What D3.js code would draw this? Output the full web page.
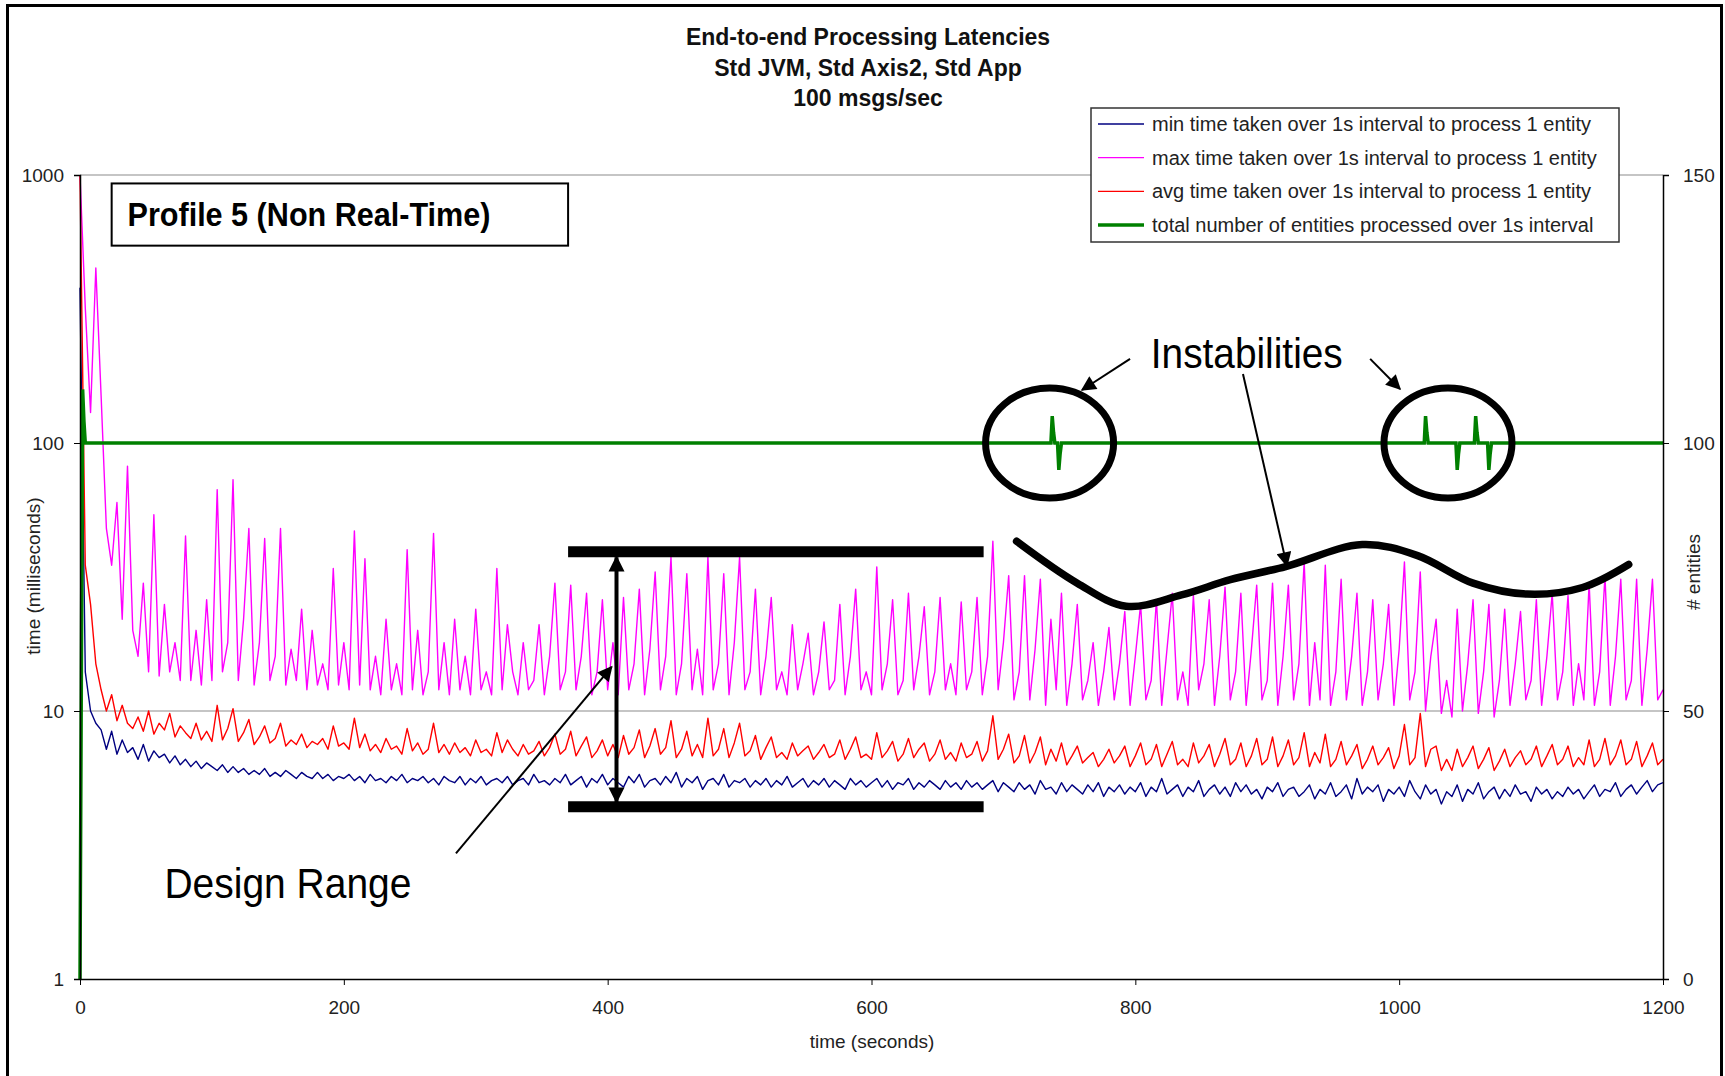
<!DOCTYPE html>
<html lang="en">
<head>
<meta charset="UTF-8">
<title>End-to-end Processing Latencies</title>
<script src="https://d3js.org/d3.v7.min.js"></script>
<style>
    body { margin: 0; background: #fff; }
    text { font-family: 'Liberation Sans', Arial, Helvetica, sans-serif; }
    .tick text { font-size: 19px; fill: #222; }
</style>
</head>
<body>
<script>
    // sampling interval of the latency series (seconds)
    const STEP = 4;

    // max time taken over 1s interval (ms), one value every STEP seconds, t = 0..1200
    const maxMs = [
        1000, 320, 130, 450, 150, 48, 35, 60, 22, 82,
        20, 16, 30, 14, 54, 13.5, 25, 14, 18, 13,
        45, 13, 20, 12.5, 26, 13, 67, 14, 18, 73,
        13, 22, 48, 12.5, 18, 44, 13, 16, 48, 12.5,
        17, 13, 24, 12, 20, 12.5, 15, 12, 34, 12.5,
        18, 12, 47, 12.5, 37, 12, 16, 11.5, 22, 12,
        15, 11.5, 40, 12, 20, 11.5, 14, 46, 12, 18,
        11.5, 22, 12, 16, 11.5, 24, 12, 14, 11.5, 34,
        12, 21, 14, 11.5, 18, 12, 13, 21, 11.5, 16,
        30, 12, 14, 29.5, 12, 16, 27.5, 11.5, 14, 26,
        12, 18, 11.5, 26.5, 12, 15, 28.5, 11.5, 17, 33,
        12, 16, 37.5, 11.5, 15, 32.5, 12, 17, 11.5, 37.5,
        12, 15, 32.5, 11.5, 18, 37.5, 12, 14, 28.5, 11.5,
        16, 26.5, 12, 14, 11.5, 21, 12, 15, 19.5, 11.5,
        14, 21.5, 12, 13, 25, 11.5, 16, 28.5, 12, 14,
        11.5, 34.5, 12, 15, 26, 11.5, 13, 27.5, 12, 16,
        24.5, 11.5, 14, 26.5, 12, 15, 11.5, 25.5, 12, 14,
        26.5, 11.5, 16, 43, 12, 18, 32, 11, 14, 32,
        11, 17, 31, 10.5, 22, 12, 27.5, 10.5, 15, 25,
        11, 13, 18, 10.5, 14, 20.5, 11, 15, 23.5, 10.5,
        16, 25, 11, 13, 26, 10.5, 17, 27.5, 11, 14,
        10.5, 27, 12, 15, 26, 10.5, 16, 29, 11, 14,
        27.5, 10.5, 17, 29.5, 11, 13, 30, 10.5, 16, 29.5,
        11, 15, 36, 10.5, 18, 11, 35, 10.5, 14, 31,
        11, 16, 27.5, 10.5, 14, 26, 11, 15, 25, 10.5,
        17, 36, 11, 14, 33, 10, 16, 22, 9.8, 13,
        9.5, 24, 10, 15, 26, 9.8, 14, 25, 9.5, 13,
        24, 10.5, 15, 23.5, 11, 13, 26, 10.5, 16, 27.5,
        11, 14, 27, 10.5, 15, 11, 30, 10.5, 14, 32,
        10.5, 16, 31, 11, 13, 31, 10.5, 17, 31, 11,
        12
    ];

    // avg time taken over 1s interval (ms)
    const avgMs = [
        1000, 35, 25, 15, 12, 10, 11.5, 9.2, 10.5, 9,
        8.6, 9.5, 8.4, 10, 8.2, 9, 8.5, 9.8, 8, 8.8,
        8.3, 7.9, 9, 7.8, 8.4, 7.7, 10.5, 7.8, 8.6, 10.2,
        7.7, 8.3, 9.3, 7.5, 8, 8.8, 7.6, 7.9, 9, 7.4,
        7.8, 7.5, 8.2, 7.3, 7.7, 7.5, 7.9, 7.2, 8.8, 7.4,
        7.6, 7.2, 9.4, 7.3, 8.2, 7.1, 7.5, 7, 7.9, 7.2,
        7.4, 6.9, 8.6, 7.1, 7.6, 6.9, 7.2, 9, 7, 7.5,
        6.9, 7.6, 7, 7.3, 6.8, 7.8, 7, 7.2, 6.8, 8.3,
        7, 7.8, 7.2, 6.8, 7.5, 6.9, 7.1, 7.7, 6.8, 7.3,
        8.2, 6.9, 7.2, 8.4, 6.8, 7.4, 8, 6.7, 7.1, 7.8,
        6.8, 7.5, 6.7, 8.1, 6.9, 7.3, 8.5, 6.7, 7.4, 8.6,
        6.9, 7.3, 9.2, 6.7, 7.2, 8.4, 6.8, 7.5, 6.7, 9.4,
        6.8, 7.2, 8.6, 6.7, 7.6, 9, 6.8, 7.1, 8.1, 6.6,
        7.3, 8, 6.7, 7, 6.6, 7.6, 6.8, 7.1, 7.4, 6.6,
        7, 7.5, 6.7, 6.9, 7.8, 6.6, 7.2, 8, 6.7, 6.9,
        6.6, 8.3, 6.7, 7.1, 7.7, 6.5, 6.9, 7.9, 6.7, 7.2,
        7.6, 6.5, 6.9, 7.8, 6.6, 7, 6.5, 7.6, 6.7, 6.9,
        7.7, 6.5, 7.1, 9.6, 6.6, 7.2, 8.2, 6.4, 6.8, 8.1,
        6.4, 7, 8, 6.3, 7.2, 6.5, 7.6, 6.3, 6.8, 7.4,
        6.4, 6.7, 7, 6.2, 6.6, 7.2, 6.4, 6.8, 7.4, 6.2,
        6.8, 7.6, 6.3, 6.6, 7.5, 6.2, 6.9, 7.7, 6.3, 6.6,
        6.2, 7.6, 6.4, 6.8, 7.5, 6.2, 6.9, 7.9, 6.3, 6.6,
        7.6, 6.2, 6.8, 7.9, 6.3, 6.6, 8, 6.2, 6.8, 7.8,
        6.3, 6.7, 8.3, 6.2, 7, 6.4, 8.2, 6.2, 6.6, 7.7,
        6.3, 6.8, 7.5, 6.1, 6.6, 7.4, 6.3, 6.7, 7.3, 6.1,
        6.8, 8.9, 6.3, 6.7, 9.8, 6.2, 7.2, 7.4, 6, 6.6,
        6, 7.2, 6.2, 6.7, 7.4, 6.1, 6.6, 7.3, 6, 6.5,
        7.2, 6.2, 6.7, 7.1, 6.3, 6.6, 7.4, 6.2, 6.8, 7.5,
        6.3, 6.6, 7.4, 6.2, 6.7, 6.3, 7.8, 6.2, 6.6, 7.9,
        6.3, 6.8, 7.8, 6.3, 6.6, 7.7, 6.2, 6.8, 7.6, 6.3,
        6.6
    ];

    // min time taken over 1s interval (ms)
    const minMs = [
        380, 14, 10, 9, 8.5, 7.2, 8.4, 6.9, 7.8, 7,
        7.3, 6.6, 7.5, 6.5, 7.1, 6.7, 6.9, 6.4, 6.8, 6.3,
        6.6, 6.2, 6.5, 6.1, 6.4, 6.2, 6, 6.3, 5.9, 6.2,
        5.9, 6.1, 5.8, 6, 5.8, 6.1, 5.7, 5.9, 5.7, 6,
        5.8, 5.6, 5.9, 5.7, 5.6, 5.9, 5.6, 5.8, 5.5, 5.7,
        5.6, 5.8, 5.5, 5.7, 5.4, 5.8, 5.5, 5.6, 5.4, 5.7,
        5.5, 5.8, 5.4, 5.6, 5.5, 5.7, 5.4, 5.6, 5.3, 5.7,
        5.5, 5.4, 5.7, 5.3, 5.6, 5.4, 5.7, 5.3, 5.5, 5.6,
        5.4, 5.7, 5.3, 5.5, 5.6, 5.3, 5.8, 5.4, 5.5, 5.3,
        5.6, 5.4, 5.8, 5.3, 5.5, 5.7, 5.2, 5.6, 5.4, 5.8,
        5.3, 5.6, 5.4, 5.2, 5.7, 5.4, 5.8, 5.2, 5.5, 5.6,
        5.3, 5.7, 5.4, 5.9, 5.2, 5.6, 5.4, 5.7, 5.1, 5.5,
        5.6, 5.3, 5.8, 5.2, 5.5, 5.4, 5.6, 5.2, 5.5, 5.3,
        5.6, 5.2, 5.5, 5.3, 5.7, 5.2, 5.4, 5.6, 5.2, 5.5,
        5.3, 5.6, 5.2, 5.5, 5.3, 5.1, 5.6, 5.3, 5.5, 5.2,
        5.4, 5.6, 5.2, 5.5, 5.1, 5.4, 5.3, 5.6, 5.1, 5.4,
        5.2, 5.5, 5.3, 5.1, 5.5, 5.2, 5.4, 5.1, 5.5, 5.2,
        5.4, 5.1, 5.3, 5.5, 5.0, 5.4, 5.2, 5.0, 5.4, 5.1,
        5.3, 4.9, 5.5, 5.1, 5.2, 4.9, 5.4, 5.0, 5.3, 5.1,
        4.9, 5.3, 5.0, 5.4, 4.8, 5.2, 5.0, 5.3, 4.9, 5.2,
        5.0, 5.4, 4.8, 5.2, 5.0, 5.6, 4.9, 5.1, 5.3, 4.8,
        5.2, 5.0, 5.5, 4.8, 5.1, 5.3, 4.9, 5.2, 4.8, 5.4,
        5.0, 5.3, 4.9, 5.1, 4.7, 5.2, 5.0, 5.4, 4.8, 5.1,
        5.2, 4.8, 5.0, 5.3, 4.7, 5.1, 4.9, 5.4, 4.8, 5.0,
        5.3, 4.7, 5.6, 4.9, 5.2, 5.0, 5.3, 4.6, 5.1, 4.9,
        5.2, 4.8, 5.5, 5.0, 4.7, 5.3, 4.9, 5.1, 4.5, 5.0,
        4.8, 5.3, 4.6, 5.1, 4.9, 5.4, 4.7, 5.0, 5.2, 4.7,
        5.1, 4.8, 5.3, 4.9, 5.0, 4.6, 5.2, 4.9, 5.1, 4.7,
        5.0, 4.8, 5.2, 4.9, 5.1, 4.7, 5.0, 5.3, 4.8, 5.1,
        5.0, 5.4, 4.8, 5.1, 5.3, 4.9, 5.2, 5.5, 5.0, 5.3,
        5.4
    ];

    // total number of entities processed over 1s interval (right axis)
    const entityT = [0, 1, 2, 3, 4, 736, 737, 738, 739, 741, 742, 743, 744,
                     1019, 1020, 1021, 1022, 1043, 1044, 1045, 1046,
                     1057, 1058, 1059, 1060, 1067, 1068, 1069, 1070, 1200];
    const entityN = [0, 55, 110, 104, 100, 100, 105, 102, 100, 100, 95, 98, 100,
                     100, 105, 102, 100, 100, 95, 98, 100,
                     100, 105, 102, 100, 100, 95, 98, 100, 100];

    const xTicks = [0, 200, 400, 600, 800, 1000, 1200];
    const yTicks = [1, 10, 100, 1000];
    const y2Ticks = [0, 50, 100, 150];

    const titleLines = ["End-to-end Processing Latencies", "Std JVM, Std Axis2, Std App", "100 msgs/sec"];
    const legendLabels = [
        "min time taken over 1s interval to process 1 entity",
        "max time taken over 1s interval to process 1 entity",
        "avg time taken over 1s interval to process 1 entity",
        "total number of entities processed over 1s interval"
    ];
    const legendColors = ["#000080", "#ff00ff", "#ff0000", "#008000"];

    const W = 1725, H = 1076;
    const plot = {left: 80, right: 1663, top: 175, bottom: 979};

    const svg = d3.select("body").append("svg")
        .attr("width", W)
        .attr("height", H);

    svg.append("rect").attr("width", W).attr("height", H).attr("fill", "#fff");

    // outer frame of the slide
    svg.append("rect")
        .attr("x", 7.5).attr("y", 5.5)
        .attr("width", 1714).attr("height", 1200)
        .attr("fill", "none")
        .attr("stroke", "#000")
        .attr("stroke-width", 3);

    const x = d3.scaleLinear().domain([0, 1200]).range([plot.left, plot.right]);
    const y = d3.scaleLog().domain([1, 1000]).range([plot.bottom, plot.top]);
    const y2 = d3.scaleLinear().domain([0, 150]).range([plot.bottom, plot.top]);

    // title
    svg.selectAll(".title")
        .data(titleLines)
        .enter().append("text")
        .attr("class", "title")
        .attr("x", 868)
        .attr("y", (d, i) => 45 + i * 30.5)
        .attr("text-anchor", "middle")
        .style("font-size", "23px")
        .style("font-weight", "bold")
        .style("fill", "#111")
        .text(d => d);

    // grid lines
    svg.append("g")
        .selectAll("line")
        .data(yTicks.slice(1))
        .enter().append("line")
        .attr("x1", plot.left).attr("x2", plot.right)
        .attr("y1", d => y(d)).attr("y2", d => y(d))
        .attr("stroke", "#8c8c8c")
        .attr("stroke-width", 1.2);

    // series
    const line = d3.line()
        .x((d, i) => x(i * STEP))
        .y(d => y(d));

    [[minMs, "#000080"], [maxMs, "#ff00ff"], [avgMs, "#ff0000"]].forEach(([s, c]) => {
        svg.append("path")
            .datum(s)
            .attr("fill", "none")
            .attr("stroke", c)
            .attr("stroke-width", 1.4)
            .attr("stroke-linejoin", "round")
            .attr("d", line);
    });

    const entityLine = d3.line()
        .x((d, i) => x(entityT[i]))
        .y(d => y2(d));

    svg.append("path")
        .datum(entityN)
        .attr("fill", "none")
        .attr("stroke", "#008000")
        .attr("stroke-width", 3.5)
        .attr("d", entityLine);

    // axes
    svg.append("g")
        .attr("transform", `translate(${plot.left},0)`)
        .call(d3.axisLeft(y).tickValues(yTicks).tickFormat(d3.format("d")).tickSize(6).tickPadding(10))
        .call(g => g.select(".domain").attr("stroke-width", 1.5));

    svg.append("g")
        .attr("transform", `translate(${plot.right},0)`)
        .call(d3.axisRight(y2).tickValues(y2Ticks).tickSize(6).tickPadding(14))
        .call(g => g.select(".domain").attr("stroke-width", 1.5));

    svg.append("g")
        .attr("transform", `translate(0,${plot.bottom})`)
        .call(d3.axisBottom(x).tickValues(xTicks).tickFormat(d3.format("d")).tickSize(6).tickSizeOuter(0))
        .call(g => g.select(".domain").attr("stroke-width", 1.5))
        .selectAll("text")
        .attr("y", 35)
        .attr("dy", null);

    // axis titles
    svg.append("text")
        .attr("x", 872).attr("y", 1048)
        .attr("text-anchor", "middle")
        .style("font-size", "19px").style("fill", "#222")
        .text("time (seconds)");

    svg.append("text")
        .attr("transform", "translate(40,576) rotate(-90)")
        .attr("text-anchor", "middle")
        .style("font-size", "19px").style("fill", "#222")
        .text("time (milliseconds)");

    svg.append("text")
        .attr("transform", "translate(1700,572) rotate(-90)")
        .attr("text-anchor", "middle")
        .style("font-size", "19px").style("fill", "#222")
        .text("# entities");

    // legend
    const legend = svg.append("g").attr("transform", "translate(1091,108)");
    legend.append("rect")
        .attr("width", 528).attr("height", 134)
        .attr("fill", "#fff")
        .attr("stroke", "#333")
        .attr("stroke-width", 1.5);
    legendLabels.forEach((lab, i) => {
        const cy = 16 + i * 33.7;
        legend.append("line")
            .attr("x1", 7).attr("x2", 53)
            .attr("y1", cy).attr("y2", cy)
            .attr("stroke", legendColors[i])
            .attr("stroke-width", i === 3 ? 3.5 : 1.3);
        legend.append("text")
            .attr("x", 61).attr("y", cy + 7)
            .style("font-size", "20px").style("fill", "#222")
            .text(lab);
    });

    // ---- annotations (placed in data coordinates) ----
    const defs = svg.append("defs");
    function marker(id, w, h) {
        defs.append("marker")
            .attr("id", id)
            .attr("viewBox", "0 0 10 10")
            .attr("refX", 9).attr("refY", 5)
            .attr("markerUnits", "userSpaceOnUse")
            .attr("markerWidth", w).attr("markerHeight", h)
            .attr("orient", "auto-start-reverse")
            .append("path")
            .attr("d", "M0,0 L10,5 L0,10 z")
            .attr("fill", "#000");
    }
    marker("arrow", 17, 15);
    marker("arrowBig", 16, 19);

    // profile box
    const profile = {t0: 24, t1: 370, top: 930, bottom: 545};
    svg.append("rect")
        .attr("x", x(profile.t0)).attr("y", y(profile.top))
        .attr("width", x(profile.t1) - x(profile.t0))
        .attr("height", y(profile.bottom) - y(profile.top))
        .attr("fill", "#fff")
        .attr("stroke", "#000")
        .attr("stroke-width", 2);
    svg.append("text")
        .attr("x", x(36)).attr("y", y(644))
        .attr("textLength", 363)
        .attr("lengthAdjust", "spacingAndGlyphs")
        .style("font-size", "33px").style("font-weight", "bold")
        .text("Profile 5 (Non Real-Time)");

    // design range bars and arrows
    const design = {t0: 370, t1: 685, hi: 39.3, lo: 4.39, tArrow: 406.7};
    svg.selectAll(".bar")
        .data([design.hi, design.lo])
        .enter().append("line")
        .attr("class", "bar")
        .attr("x1", x(design.t0)).attr("x2", x(design.t1))
        .attr("y1", d => y(d)).attr("y2", d => y(d))
        .attr("stroke", "#000")
        .attr("stroke-width", 11);

    svg.append("line")
        .attr("x1", x(design.tArrow)).attr("x2", x(design.tArrow))
        .attr("y1", y(37.5)).attr("y2", y(4.58))
        .attr("stroke", "#000").attr("stroke-width", 4)
        .attr("marker-start", "url(#arrowBig)")
        .attr("marker-end", "url(#arrowBig)");

    svg.append("line")
        .attr("x1", x(285)).attr("y1", y(2.94))
        .attr("x2", x(403)).attr("y2", y(14.6))
        .attr("stroke", "#000").attr("stroke-width", 2)
        .attr("marker-end", "url(#arrow)");

    svg.append("text")
        .attr("x", x(64)).attr("y", y(2.0))
        .attr("textLength", 247)
        .attr("lengthAdjust", "spacingAndGlyphs")
        .style("font-size", "42px")
        .text("Design Range");

    // instabilities
    svg.selectAll(".ring")
        .data([735, 1037])
        .enter().append("ellipse")
        .attr("class", "ring")
        .attr("cx", d => x(d)).attr("cy", y2(100))
        .attr("rx", 64).attr("ry", 55)
        .attr("fill", "none")
        .attr("stroke", "#000")
        .attr("stroke-width", 7);

    const wave = [[710, 43], [756, 30], [793, 24.6], [835, 27.1], [872, 30.9], [914, 34.6],
                  [972, 41.8], [1014, 38], [1056, 30], [1097, 27.3], [1139, 28.9], [1174, 35.2]];
    svg.append("path")
        .datum(wave)
        .attr("fill", "none")
        .attr("stroke", "#000")
        .attr("stroke-width", 7.5)
        .attr("stroke-linecap", "round")
        .attr("d", d3.line().x(d => x(d[0])).y(d => y(d[1])).curve(d3.curveCatmullRom.alpha(0.5)));

    const pointers = [[[796, 206], [759.6, 157.7]], [[978, 206], [1000.6, 159]], [[881.6, 181], [914.9, 34.8]]];
    svg.selectAll(".pointer")
        .data(pointers)
        .enter().append("line")
        .attr("class", "pointer")
        .attr("x1", d => x(d[0][0])).attr("y1", d => y(d[0][1]))
        .attr("x2", d => x(d[1][0])).attr("y2", d => y(d[1][1]))
        .attr("stroke", "#000").attr("stroke-width", 2)
        .attr("marker-end", "url(#arrow)");

    svg.append("text")
        .attr("x", x(811.7)).attr("y", y(191))
        .attr("textLength", 192)
        .attr("lengthAdjust", "spacingAndGlyphs")
        .style("font-size", "42px")
        .text("Instabilities");
</script>
</body>
</html>
